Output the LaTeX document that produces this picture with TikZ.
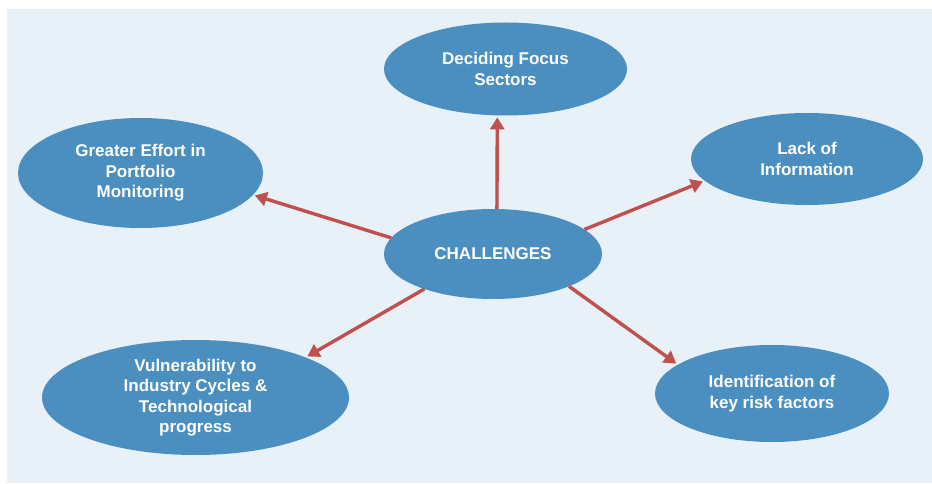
\documentclass[tikz,border=0pt]{standalone}
\usepackage{fontspec}
\setmainfont{Liberation Sans}
\usepackage{xcolor}
\usepackage{tikz}
\usetikzlibrary{shapes, arrows, arrows.meta, calc}
\definecolor{bubble}{HTML}{4A8FC0}
\definecolor{panel}{HTML}{E8F0F8}
\definecolor{arrowred}{HTML}{C0504D}
\tikzstyle{challenge} = [ellipse, draw=none, fill=bubble, text=white,
    align=center, inner sep=0pt, outer sep=0pt,
    font=\bfseries\fontsize{17}{20.5}\selectfont]
\tikzstyle{line} = [draw=arrowred, line width=3.4pt, shorten >=2pt,
    -{Triangle[length=12pt, width=14pt]}]

\begin{document}
\begin{tikzpicture}[x=1pt, y=1pt]
    % Background
    \useasboundingbox [fill=white] (0,0) rectangle (932,483);
    \fill [panel] (7,0) rectangle (932,474);
    % Nodes
    \node [challenge, minimum width=218pt, minimum height=90pt] (center) at (493,229) {CHALLENGES};
    \node [challenge, minimum width=243pt, minimum height=93pt] (sectors) at (505.5,414) {Deciding Focus\\Sectors};
    \node [challenge, minimum width=245pt, minimum height=110pt] (monitoring) at (140.5,310) {Greater Effort in\\Portfolio\\Monitoring};
    \node [challenge, minimum width=232pt, minimum height=92pt] (information) at (807,324) {Lack of\\Information};
    \node [challenge, minimum width=307pt, minimum height=115pt] (cycles) at (195.5,85.5) {Vulnerability to\\Industry Cycles \&\\Technological\\progress};
    \node [challenge, minimum width=234pt, minimum height=97pt] (risks) at (772,89.5) {Identification of\\key risk factors};
    % Edges
    \path [line] (center.85) -- (sectors.260);
    \path [line] (center.171) -- (monitoring.349);
    \path [line] (center.15) -- (information.192);
    \path [line] (center.207) -- (cycles.20);
    \path [line] (center.337) -- (risks.163);
\end{tikzpicture}
\end{document}
